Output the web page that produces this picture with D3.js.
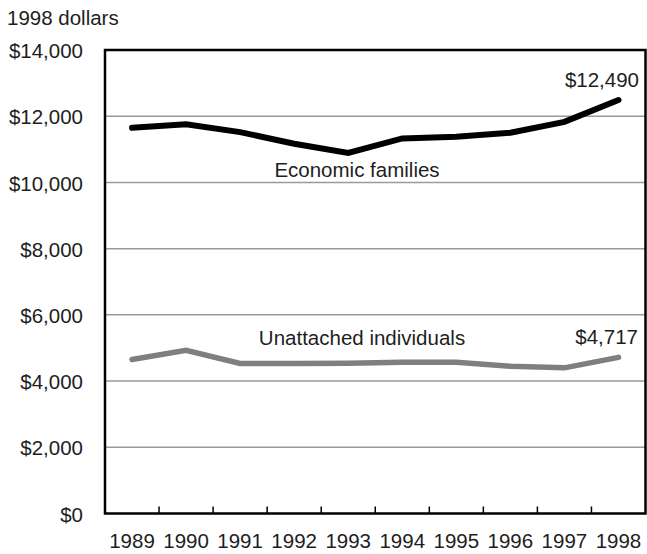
<!DOCTYPE html>
<html>
<head>
<meta charset="utf-8">
<script src="https://cdn.jsdelivr.net/npm/d3@7"></script>
<style>
  html, body { margin: 0; padding: 0; background: #fff; }
  svg { display: block; }
  text { font-family: "Liberation Sans", Arial, Helvetica, sans-serif; fill: #1e1e1e; }
</style>
</head>
<body>
<svg id="chart" width="647" height="554"></svg>
<script>
const years = ["1989","1990","1991","1992","1993","1994","1995","1996","1997","1998"];
const familyValues = [11650, 11760, 11520, 11170, 10890, 11330, 11380, 11500, 11830, 12490];
const individualValues = [4650, 4930, 4530, 4530, 4540, 4570, 4570, 4450, 4400, 4717];
const yTicks = [0, 2000, 4000, 6000, 8000, 10000, 12000, 14000];
const unitLabel = "1998 dollars";
const seriesLabels = ["Economic families", "Unattached individuals"];
const endLabels = ["$12,490", "$4,717"];

const FS = 20.5;
const svg = d3.select("#chart");
const plot = { left: 105, right: 645.5, top: 50, bottom: 513.5 };

const x = d3.scaleBand().domain(years).range([plot.left, plot.right]).padding(0);
const y = d3.scaleLinear().domain([0, 14000]).range([plot.bottom, plot.top]);
const cx = d => x(d) + x.bandwidth() / 2;
const fmt = d => "$" + d3.format(",")(d);

// gridlines
svg.append("g").selectAll("line")
  .data(yTicks.filter(t => t > 0 && t < 14000))
  .join("line")
  .attr("x1", plot.left).attr("x2", plot.right)
  .attr("y1", d => y(d)).attr("y2", d => y(d))
  .attr("stroke", "#9a9a9a").attr("stroke-width", 1.5);

// x ticks at band boundaries (inward)
svg.append("g").selectAll("line")
  .data(years.slice(1))
  .join("line")
  .attr("x1", d => x(d)).attr("x2", d => x(d))
  .attr("y1", plot.bottom).attr("y2", plot.bottom - 7)
  .attr("stroke", "#000").attr("stroke-width", 1.5);

// frame
svg.append("rect")
  .attr("x", plot.left).attr("y", plot.top)
  .attr("width", plot.right - plot.left).attr("height", plot.bottom - plot.top)
  .attr("fill", "none").attr("stroke", "#000").attr("stroke-width", 2.5);

// y labels
svg.append("g").selectAll("text")
  .data(yTicks)
  .join("text")
  .attr("x", 83).attr("y", d => y(d)).attr("dy", "0.4em")
  .attr("text-anchor", "end").attr("font-size", FS)
  .text(fmt);

// x labels
svg.append("g").selectAll("text")
  .data(years)
  .join("text")
  .attr("x", d => cx(d)).attr("y", 548)
  .attr("text-anchor", "middle").attr("font-size", FS)
  .text(d => d);

// unit label
svg.append("text").attr("x", 7).attr("y", 24.5).attr("font-size", FS).text(unitLabel);

const line = d3.line().x(d => cx(d.year)).y(d => y(d.value));

svg.append("path")
  .datum(years.map((yr, i) => ({ year: yr, value: individualValues[i] })))
  .attr("d", line).attr("fill", "none")
  .attr("stroke", "#7f7f7f").attr("stroke-width", 5.5)
  .attr("stroke-linecap", "round").attr("stroke-linejoin", "miter");

svg.append("path")
  .datum(years.map((yr, i) => ({ year: yr, value: familyValues[i] })))
  .attr("d", line).attr("fill", "none")
  .attr("stroke", "#000").attr("stroke-width", 6)
  .attr("stroke-linecap", "round").attr("stroke-linejoin", "miter");

// annotations
svg.append("text").attr("x", 357).attr("y", 177).attr("text-anchor", "middle")
  .attr("font-size", FS).text(seriesLabels[0]);
svg.append("text").attr("x", 362).attr("y", 345).attr("text-anchor", "middle")
  .attr("font-size", FS).text(seriesLabels[1]);
svg.append("text").attr("x", 639).attr("y", 87).attr("text-anchor", "end")
  .attr("font-size", FS).text(endLabels[0]);
svg.append("text").attr("x", 638).attr("y", 344).attr("text-anchor", "end")
  .attr("font-size", FS).text(endLabels[1]);
</script>
</body>
</html>
